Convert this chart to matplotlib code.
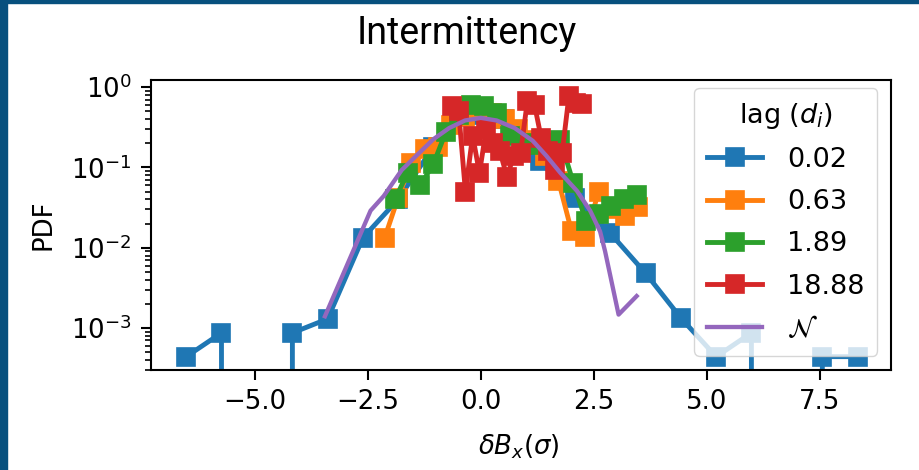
import matplotlib.pyplot as plt

# PDF of delta B_x for each lag (bin centres in units of sigma)
lag_labels = ['0.02', '0.63', '1.89', '18.88']

x_lag0 = [-6.52, -5.74, -4.96, -4.17, -3.39, -2.61, -1.83, -1.05, -0.26, 0.52,
          1.30, 2.08, 2.86, 3.65, 4.43, 5.21, 5.99, 6.78, 7.56, 8.34]
pdf_lag0 = [4.4e-4, 8.7e-4, 0, 8.7e-4, 1.3e-3, 0.0133, 0.040, 0.18, 0.45, 0.40,
            0.12, 0.042, 0.0153, 0.0048, 0.00133, 4.4e-4, 8.7e-4, 0, 4.4e-4, 4.4e-4]

x_lag1 = [-2.13, -1.83, -1.54, -1.24, -0.95, -0.65, -0.35, -0.06, 0.24, 0.53,
          0.83, 1.13, 1.42, 1.72, 2.01, 2.31, 2.61, 2.90, 3.20, 3.49]
pdf_lag1 = [0.0132, 0.042, 0.115, 0.17, 0.18, 0.34, 0.42, 0.50, 0.48, 0.40,
            0.30, 0.22, 0.14, 0.068, 0.016, 0.0135, 0.050, 0.030, 0.025, 0.032]

x_lag2 = [-1.90, -1.62, -1.34, -1.05, -0.77, -0.49, -0.21, 0.07, 0.35, 0.64,
          0.92, 1.20, 1.48, 1.76, 2.05, 2.33, 2.61, 2.89, 3.18, 3.46]
pdf_lag2 = [0.040, 0.086, 0.060, 0.11, 0.28, 0.45, 0.60, 0.58, 0.48, 0.25,
            0.20, 0.19, 0.20, 0.22, 0.064, 0.0215, 0.026, 0.033, 0.040, 0.046]

x_lag3 = [-0.64, -0.49, -0.34, -0.18, -0.03, 0.12, 0.27, 0.42, 0.58, 0.73,
          0.88, 1.03, 1.19, 1.34, 1.49, 1.64, 1.80, 1.95, 2.10, 2.25]
pdf_lag3 = [0.58, 0.50, 0.050, 0.25, 0.085, 0.30, 0.20, 0.16, 0.077, 0.14,
            0.15, 0.67, 0.60, 0.23, 0.16, 0.094, 0.15, 0.77, 0.64, 0.62]

# reference normal curve
x_norm = [-3.45, -2.44, -2.15, -1.75, -1.40, -1.05, -0.70, -0.35, 0.0, 0.35,
          0.75, 1.15, 1.45, 1.76, 2.13, 2.42, 2.64, 2.75, 3.05, 3.45]
pdf_norm = [1.4e-3, 0.029, 0.044, 0.093, 0.145, 0.225, 0.31, 0.385, 0.415, 0.385,
            0.31, 0.215, 0.14, 0.086, 0.051, 0.029, 0.016, 0.0091, 0.00147, 0.0025]

fs = 18.7
plt.rcParams['font.size'] = fs

fig = plt.figure(figsize=(9.19, 4.70), dpi=100)
fig.patch.set_facecolor('white')

# page frame on the left and top
fig.patches.append(plt.Rectangle((0, 0), 7 / 919, 1, transform=fig.transFigure,
                                 color='#07507e', zorder=0))
fig.patches.append(plt.Rectangle((0, 1 - 3 / 470), 1, 3 / 470, transform=fig.transFigure,
                                 color='#07507e', zorder=0))

fig.text(467 / 919, 1 - 34 / 470, 'Intermittency', family='Roboto', fontsize=27,
         ha='center', va='center')

ax = fig.add_axes([151 / 919, 1 - 370 / 470, 740 / 919, 290 / 470])

series = [(x_lag0, pdf_lag0), (x_lag1, pdf_lag1), (x_lag2, pdf_lag2), (x_lag3, pdf_lag3)]
for i, (xs, ys) in enumerate(series):
    ax.plot(xs, ys, marker='s', color=f'C{i}', lw=3.5, ms=12.5, mew=1.2,
            label=lag_labels[i])
ax.plot(x_norm, pdf_norm, color='C4', lw=3.1, label=r'$\mathcal{N}$')

ax.set_yscale('log')
ax.set_xlim(-7.3, 9.08)
ax.set_ylim(3.0e-4, 1.23)
ax.set_xticks([-5.0, -2.5, 0.0, 2.5, 5.0, 7.5])

for s in ax.spines.values():
    s.set_linewidth(1.5)
ax.tick_params(which='major', length=7, width=1.5, pad=7, labelsize=fs)
ax.tick_params(which='minor', length=4.2, width=1.2)

ax.set_ylabel('PDF', fontsize=fs)
ax.yaxis.set_label_coords(-0.128, 0.5)
ax.set_xlabel(r'$\delta B_x(\sigma)$', fontsize=fs)
ax.xaxis.set_label_coords(0.497, -0.214)

ax.legend(title=r'lag ($d_i$)', fontsize=19.5, title_fontsize=19.5,
          loc='upper right', bbox_to_anchor=(877 / 919, 1 - 88 / 470),
          bbox_transform=fig.transFigure, borderaxespad=0, borderpad=0.47,
          labelspacing=0.6, handlelength=2.05, handletextpad=0.9)

fig.savefig('out.png', dpi=100)
